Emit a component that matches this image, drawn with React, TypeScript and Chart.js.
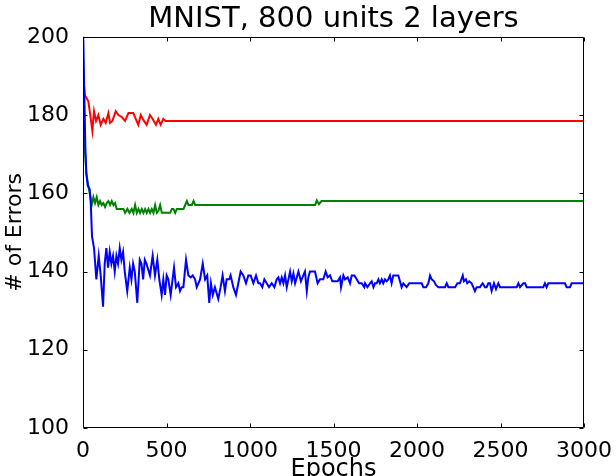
import React, { useEffect, useRef } from "react";
import { Chart, registerables } from "chart.js";

Chart.register(...registerables);

const chartTitle = "MNIST, 800 units 2 layers";
const xAxisLabel = "Epochs";
const yAxisLabel = "# of Errors";
const xTickValues = [0, 500, 1000, 1500, 2000, 2500, 3000];
const yTickValues = [100, 120, 140, 160, 180, 200];

const blueEpochs = [
  0, 8, 14, 20, 28, 40, 46, 54, 66, 80, 94, 106, 120, 130, 140, 150, 160, 170, 180, 190,
  200, 210, 220, 230, 240, 250, 265, 280, 290, 300, 310, 325, 340, 350, 360, 370, 380, 401, 417, 431,
  445, 457, 471, 481, 491, 501, 511, 525, 545, 557, 571, 581, 591, 601, 617, 631, 645, 657, 671, 681,
  701, 717, 731, 744, 756, 766, 777, 790, 810, 824, 836, 850, 860, 876, 884, 900, 916, 930, 944, 960,
  976, 990, 1004, 1020, 1036, 1050, 1060, 1074, 1086, 1100, 1114, 1130, 1146, 1160, 1170, 1180, 1190, 1200, 1210, 1220,
  1230, 1240, 1250, 1260, 1270, 1280, 1290, 1305, 1319, 1329, 1340, 1349, 1359, 1379, 1389, 1405, 1419, 1439, 1453, 1465,
  1479, 1493, 1509, 1525, 1539, 1545, 1559, 1569, 1585, 1599, 1609, 1625, 1639, 1653, 1669, 1684, 1689, 1703, 1719, 1729,
  1739, 1749, 1759, 1769, 1778, 1789, 1798, 1808, 1818, 1828, 1838, 1848, 1858, 1878, 1888, 1898, 1908, 1918, 1938, 1954,
  2028, 2038, 2054, 2068, 2078, 2088, 2102, 2114, 2128, 2168, 2178, 2188, 2228, 2242, 2257, 2274, 2281, 2293, 2301, 2313,
  2327, 2337, 2347, 2357, 2377, 2393, 2407, 2417, 2427, 2437, 2447, 2461, 2473, 2487, 2497, 2597, 2607, 2617, 2637, 2647,
  2657, 2756, 2766, 2776, 2786, 2886, 2896, 2916, 2926, 3000,
];
const blueErrors = [
  204, 185, 172, 165, 162, 161, 158, 149, 146, 138, 144, 139, 131, 142, 146, 141, 145, 142, 144, 140,
  144, 142, 146, 143, 145, 140, 135, 141, 138, 142, 140, 132, 143, 142, 138, 143, 142, 139, 144, 139,
  143, 138, 134, 138, 134, 139, 138, 134, 141, 136, 137, 135, 136, 136, 143, 139, 138.5, 139, 138, 136,
  138, 142, 138, 139, 132, 137, 134, 136, 133, 136, 139, 135, 138, 138, 139, 136, 134, 137, 140, 139,
  137, 139, 139, 137, 139, 137, 137, 136, 138, 137, 136, 137, 136, 138, 138.5, 137, 138.5, 137, 139, 136,
  138, 140, 137.5, 139.5, 137, 138.5, 140, 137.5, 139, 140, 135, 138.5, 140, 140, 140, 137, 138, 138, 140, 138.5,
  139, 137.5, 137.5, 137.5, 138.5, 136, 139, 138, 138.5, 137, 139, 139, 138, 137, 137, 136, 137, 136, 137, 137.5,
  136, 137, 137, 138, 137, 138, 137, 138, 137.5, 138, 139, 137, 139, 139, 139, 137.5, 136, 137, 136, 137,
  137, 136, 136, 137, 139, 138, 137.5, 136.5, 136, 136, 137, 136, 136, 137, 137, 139, 137.5, 138, 137, 137.5,
  137, 136, 135, 136, 136, 137, 136, 136, 137, 137, 135, 137, 135.5, 137, 136, 136, 137, 136, 137, 137,
  136, 136, 137, 136, 137, 137, 136, 136, 137, 137,
];

const greenEpochs = [
  0, 10, 20, 32, 42, 52, 62, 72, 82, 92, 102, 112, 122, 132, 142, 152, 162, 172, 182, 192,
  202, 222, 242, 252, 266, 278, 292, 302, 312, 322, 332, 342, 352, 362, 372, 382, 392, 402, 412, 422,
  432, 442, 452, 462, 472, 522, 532, 542, 552, 562, 582, 592, 602, 612, 622, 632, 652, 662, 672, 1390,
  1400, 1413, 1428, 3000,
];
const greenErrors = [
  196, 172, 165, 162, 159.5, 157, 159, 157.5, 159, 157, 158, 157, 157.5, 156.5, 157.5, 158, 157, 158, 157, 157.5,
  156, 156, 156, 155, 156, 155, 156, 155, 157, 155, 156, 155, 156, 155, 156, 155, 156, 155, 156, 155,
  157, 155, 155.5, 157, 155, 155, 156, 156, 155, 156, 156, 156, 156, 157, 158, 157, 157, 158, 157, 157,
  158.2, 157.2, 158, 158,
];

const redEpochs = [
  0, 12, 32, 42, 56, 66, 78, 92, 106, 122, 136, 152, 162, 176, 196, 212, 232, 252, 272, 301,
  316, 331, 346, 365, 381, 401, 417, 437, 451, 465, 481, 495, 3000,
];
const redErrors = [
  190, 185, 183.5, 180.5, 176, 181, 178.5, 180, 177.5, 179, 178, 180.5, 178, 178.5, 181, 180, 179.5, 178.5, 180.5, 180.5,
  179, 177.5, 180, 178.5, 177.5, 180, 179, 177.5, 179, 177.5, 179, 178.5, 178.5,
];

const toPoints = (xs: number[], ys: number[]) => xs.map((x, i) => ({ x, y: ys[i] }));

const FONT = "'DejaVu Sans', sans-serif";

const framePlugin = {
  id: "frameAndInwardTicks",
  afterDraw(chart: any) {
    const { ctx, chartArea } = chart;
    const { left, right, top, bottom } = chartArea;
    const xs = chart.scales.x;
    const ys = chart.scales.y;
    ctx.save();
    ctx.strokeStyle = "#000";
    ctx.lineWidth = 1;
    const L = Math.round(left) + 0.5;
    const R = Math.round(right) - 0.5;
    const T = Math.round(top) + 0.5;
    const B = Math.round(bottom) - 0.5;
    ctx.beginPath();
    ctx.rect(L, T, R - L, B - T);
    ctx.stroke();
    const len = 4;
    ctx.beginPath();
    xTickValues.forEach((v) => {
      const px = Math.round(xs.getPixelForValue(v)) + 0.5;
      ctx.moveTo(px, B);
      ctx.lineTo(px, B - len);
      ctx.moveTo(px, T);
      ctx.lineTo(px, T + len);
    });
    yTickValues.forEach((v) => {
      const py = Math.round(ys.getPixelForValue(v)) + 0.5;
      ctx.moveTo(L, py);
      ctx.lineTo(L + len, py);
      ctx.moveTo(R, py);
      ctx.lineTo(R - len, py);
    });
    ctx.stroke();
    ctx.restore();
  },
};

export default function App() {
  const canvasRef = useRef<HTMLCanvasElement | null>(null);

  useEffect(() => {
    document.body.style.margin = "0";
    const canvas = canvasRef.current;
    if (!canvas) return;
    const chart = new Chart(canvas, {
      type: "line",
      data: {
        datasets: [
          {
            label: "blue",
            data: toPoints(blueEpochs, blueErrors),
            borderColor: "#0000ff",
            backgroundColor: "#0000ff",
            borderWidth: 2,
            pointRadius: 0,
            tension: 0,
          },
          {
            label: "green",
            data: toPoints(greenEpochs, greenErrors),
            borderColor: "#008000",
            backgroundColor: "#008000",
            borderWidth: 2,
            pointRadius: 0,
            tension: 0,
          },
          {
            label: "red",
            data: toPoints(redEpochs, redErrors),
            borderColor: "#ff0000",
            backgroundColor: "#ff0000",
            borderWidth: 2,
            pointRadius: 0,
            tension: 0,
          },
        ],
      },
      options: {
        responsive: false,
        animation: false,
        devicePixelRatio: 1,
        layout: { padding: { left: 0, right: 32, top: 0, bottom: 0 } },
        plugins: {
          legend: { display: false },
          tooltip: { enabled: false },
          title: {
            display: true,
            fullSize: false,
            text: chartTitle,
            color: "#000",
            font: { family: FONT, size: 29, weight: "normal", lineHeight: 1.2 },
            padding: { top: 2, bottom: 0 },
          },
        },
        scales: {
          x: {
            type: "linear",
            min: 0,
            max: 3000,
            grid: { display: false },
            border: { display: false },
            afterBuildTicks: (scale: any) => {
              scale.ticks = xTickValues.map((v) => ({ value: v }));
            },
            afterFit: (scale: any) => {
              scale.height = 48;
            },
            ticks: {
              color: "#000",
              padding: 2,
              maxRotation: 0,
              autoSkip: false,
              font: { family: FONT, size: 22 },
              callback: (v: any) => String(v),
            },
            title: {
              display: true,
              text: xAxisLabel,
              color: "#000",
              font: { family: FONT, size: 24 },
              padding: { top: 0, bottom: -8 },
            },
          },
          y: {
            type: "linear",
            min: 100,
            max: 200,
            grid: { display: false },
            border: { display: false },
            afterBuildTicks: (scale: any) => {
              scale.ticks = yTickValues.map((v) => ({ value: v }));
            },
            afterFit: (scale: any) => {
              scale.width = 83;
            },
            ticks: {
              color: "#000",
              padding: 6,
              autoSkip: false,
              font: { family: FONT, size: 22 },
              callback: (v: any) => String(v),
            },
            title: {
              display: true,
              text: yAxisLabel,
              color: "#000",
              font: { family: FONT, size: 22 },
              padding: { top: 2, bottom: 0 },
            },
          },
        },
      },
      plugins: [framePlugin],
    } as any);
    return () => chart.destroy();
  }, []);

  return (
    <div style={{ position: "fixed", left: 0, top: 0, width: 616, height: 476, background: "#fff" }}>
      <canvas ref={canvasRef} width={616} height={476} style={{ display: "block" }} />
    </div>
  );
}
